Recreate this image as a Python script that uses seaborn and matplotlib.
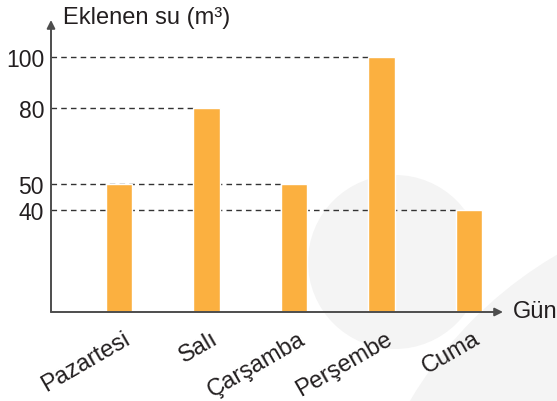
import matplotlib.pyplot as plt
import matplotlib.transforms as mtransforms
from matplotlib.patches import Circle
import seaborn as sns

days = ["Pazartesi", "Salı", "Çarşamba", "Perşembe", "Cuma"]
water = [50, 80, 50, 100, 40]
y_ticks = [40, 50, 80, 100]

bar_color = "#FBB040"
axis_color = "#4D4D4D"
text_color = "#231F20"

sns.set_style("white")
plt.rcParams["font.family"] = ["Liberation Sans", "DejaVu Sans"]

fig = plt.figure(figsize=(5.57, 4.02), dpi=100)

# faint background shapes
for (cx, cy, r) in [(3.95, 1.39, 0.87), (7.66, -2.11, 4.14)]:
    fig.patches.append(Circle((cx, cy), r, transform=fig.dpi_scale_trans,
                              facecolor="#F4F4F4", edgecolor="none", zorder=-5))

ax = fig.add_axes([51 / 557, 89 / 402, 452 / 557, 292 / 402])
ax.patch.set_alpha(0)

sns.barplot(x=days, y=water, color=bar_color, saturation=1, width=0.3, ax=ax, zorder=3)

ax.set_xlim(-0.777, 4.389)
ax.set_ylim(0, 114.5)

# dashed guide lines from the axis to the last bar with that value
for v in y_ticks:
    last = max(i for i, w in enumerate(water) if w == v)
    ax.hlines(v, -0.777, last - 0.15, colors="#333333", linestyles=(0, (4, 3)),
              lw=1.0, zorder=2)

for s in ax.spines.values():
    s.set_visible(False)

arrow = dict(arrowstyle="-|>", color=axis_color, lw=1.4, mutation_scale=12,
             shrinkA=0, shrinkB=0)
ax.annotate("", xy=(0, 1), xytext=(0, 0), xycoords="axes fraction", arrowprops=arrow)
ax.annotate("", xy=(1, 0), xytext=(0, 0), xycoords="axes fraction", arrowprops=arrow)

ax.set_yticks(y_ticks)
ax.set_yticklabels([str(t) for t in y_ticks], fontsize=16.5, color=text_color)
ax.tick_params(axis="y", length=0, pad=5)

ax.tick_params(axis="x", direction="inout", length=13, width=1.2, color=axis_color, pad=0)
ax.set_xticks(range(len(days)))
ax.set_xticklabels(days, fontsize=17, color=text_color, rotation=30,
                   ha="right", va="top", rotation_mode="anchor")
offset = mtransforms.ScaledTranslation(4 / 100, -6 / 100, fig.dpi_scale_trans)
for lbl in ax.get_xticklabels():
    lbl.set_transform(lbl.get_transform() + offset)

ax.set_xlabel("")
ax.set_ylabel("")

fig.text(63 / 557, 1 - 24 / 402, "Eklenen su (m³)", fontsize=17, color=text_color,
         ha="left", va="baseline")
fig.text(513 / 557, 1 - 312 / 402, "Gün", fontsize=17, color=text_color,
         ha="left", va="center")

fig.savefig("out.png", dpi=100)
